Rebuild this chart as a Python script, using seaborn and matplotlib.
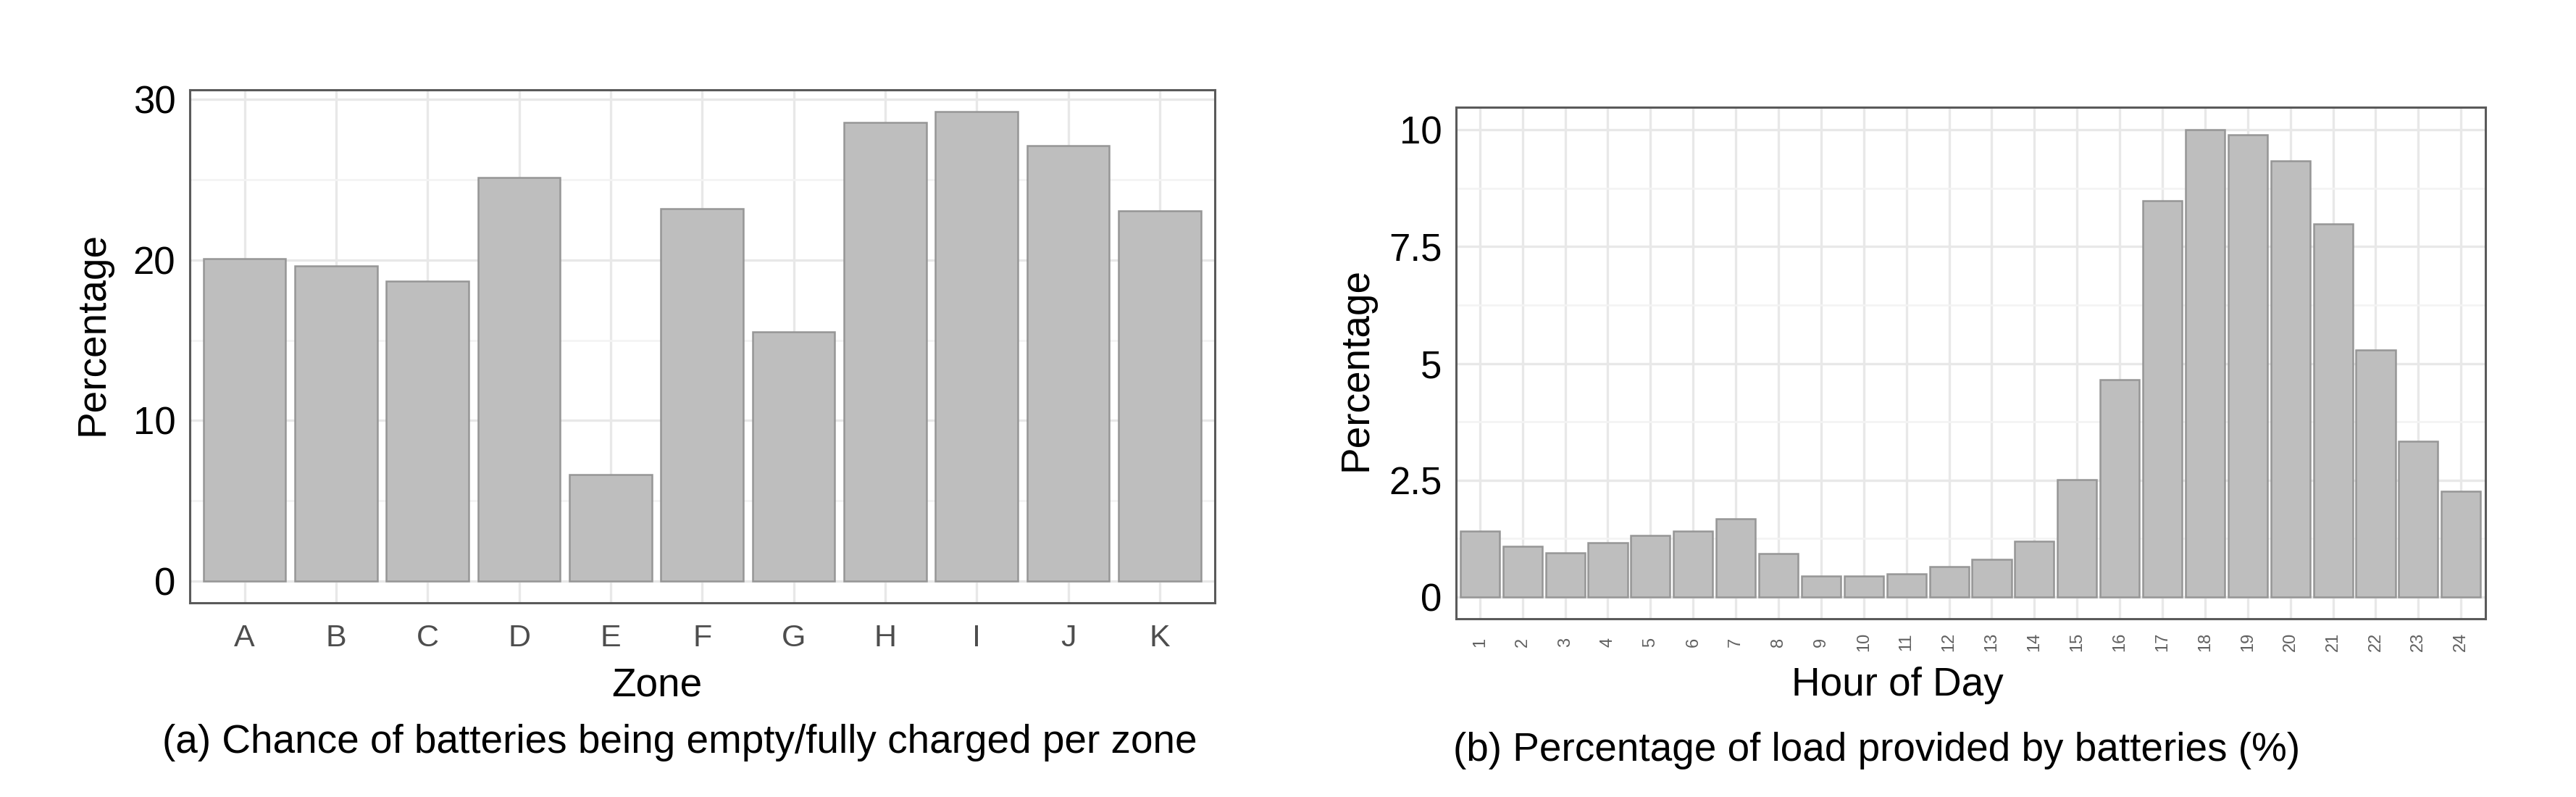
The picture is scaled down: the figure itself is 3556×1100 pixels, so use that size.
import matplotlib
matplotlib.use("Agg")
import matplotlib.pyplot as plt
from matplotlib.ticker import MultipleLocator
import seaborn as sns
import pandas as pd

# ---- data ----
zones = ["A", "B", "C", "D", "E", "F", "G", "H", "I", "J", "K"]
zone_pct = [20.1, 19.65, 18.7, 25.15, 6.63, 23.2, 15.5, 28.55, 29.25, 27.1, 23.05]

hours = [str(h) for h in range(1, 25)]
hour_pct = [1.41, 1.09, 0.95, 1.17, 1.32, 1.41, 1.67, 0.93, 0.45, 0.45, 0.5, 0.65,
            0.80, 1.20, 2.51, 4.65, 8.48, 10.01, 9.90, 9.33, 7.98, 5.29, 3.34, 2.27]

zone_yticks = [0, 10, 20, 30]
hour_yticks = [0, 2.5, 5, 7.5, 10]
hour_ytick_labels = ["0", "2.5", "5", "7.5", "10"]

xlabel_a = "Zone"
xlabel_b = "Hour of Day"
ylabel = "Percentage"
caption_a = "(a) Chance of batteries being empty/fully charged per zone"
caption_b = "(b) Percentage of load provided by batteries (%)"

df_a = pd.DataFrame({"zone": zones, "pct": zone_pct})
df_b = pd.DataFrame({"hour": hours, "pct": hour_pct})

# ---- style ----
sns.set_style("white")
plt.rcParams["font.family"] = ["Liberation Sans", "DejaVu Sans"]
plt.rcParams["text.color"] = "black"
plt.rcParams["axes.labelcolor"] = "black"

BAR_FILL = "#bebebe"
BAR_EDGE = "#969696"
FRAME = "#5a5a5a"
GRID_MAJ = "#e8e8e8"
GRID_MIN = "#f3f3f3"
TITLE_FS = 39.5

fig = plt.figure(figsize=(35.56, 11), dpi=100)
ax_a = fig.add_axes([0.0736, 0.2439, 0.3979, 0.6430])
ax_b = fig.add_axes([0.5652, 0.2234, 0.3996, 0.6424])

sns.barplot(data=df_a, x="zone", y="pct", order=zones, ax=ax_a,
            color=BAR_FILL, edgecolor=BAR_EDGE, linewidth=1.8,
            width=0.9, saturation=1, errorbar=None)
sns.barplot(data=df_b, x="hour", y="pct", order=hours, ax=ax_b,
            color=BAR_FILL, edgecolor=BAR_EDGE, linewidth=1.8,
            width=0.92, saturation=1, errorbar=None)

def style_axes(ax, xlim, ylim, yticks, ylabels, minor_step):
    ax.set_xlim(*xlim)
    ax.set_ylim(*ylim)
    ax.set_yticks(yticks)
    ax.set_yticklabels(ylabels)
    ax.yaxis.set_minor_locator(MultipleLocator(minor_step))
    ax.set_axisbelow(True)
    ax.grid(True, which="major", axis="both", color=GRID_MAJ, lw=2.4)
    ax.grid(True, which="minor", axis="y", color=GRID_MIN, lw=1.8)
    for s in ax.spines.values():
        s.set_visible(True)
        s.set_color(FRAME)
        s.set_linewidth(2.2)
    ax.tick_params(axis="both", which="major", direction="out", length=8,
                   width=2.2, color="#333333")
    ax.tick_params(axis="y", which="minor", length=0)
    ax.tick_params(axis="y", labelsize=38, labelcolor="black", pad=6)

style_axes(ax_a, (-0.6, 10.6), (-1.35, 30.58), zone_yticks,
           [str(v) for v in zone_yticks], 5)
style_axes(ax_b, (-0.56, 23.57), (-0.47, 10.49), hour_yticks,
           hour_ytick_labels, 1.25)

ax_a.tick_params(axis="x", labelsize=31, labelcolor="#4d4d4d", pad=10, length=11)
ax_b.tick_params(axis="x", labelsize=17, labelcolor="#606060", pad=15, length=8,
                 labelrotation=90)
for lbl in ax_b.get_xticklabels():
    lbl.set_va("center")
    lbl.set_ha("center")

# axis titles
ax_a.set_xlabel(xlabel_a, fontsize=TITLE_FS, color="black")
ax_b.set_xlabel(xlabel_b, fontsize=TITLE_FS, color="black")
ax_a.set_ylabel(ylabel, fontsize=TITLE_FS, color="black")
ax_b.set_ylabel(ylabel, fontsize=TITLE_FS, color="black")
for ax, xl_x, xl_y, yl_x, yl_y in [(ax_a, 0.456, -0.1616, -0.094, 0.525),
                                   (ax_b, 0.4286, -0.1298, -0.0964, 0.488)]:
    ax.xaxis.set_label_coords(xl_x, xl_y)
    ax.xaxis.label.set_va("center")
    ax.yaxis.set_label_coords(yl_x, yl_y)
    ax.yaxis.label.set_va("center")

fig.text(938 / 3556, 1 - 1025 / 1100, caption_a, ha="center", va="center",
         fontsize=TITLE_FS, color="black")
fig.text(2591 / 3556, 1 - 1036 / 1100, caption_b, ha="center", va="center",
         fontsize=TITLE_FS, color="black")

fig.savefig("out.png", dpi=100, facecolor="white")
